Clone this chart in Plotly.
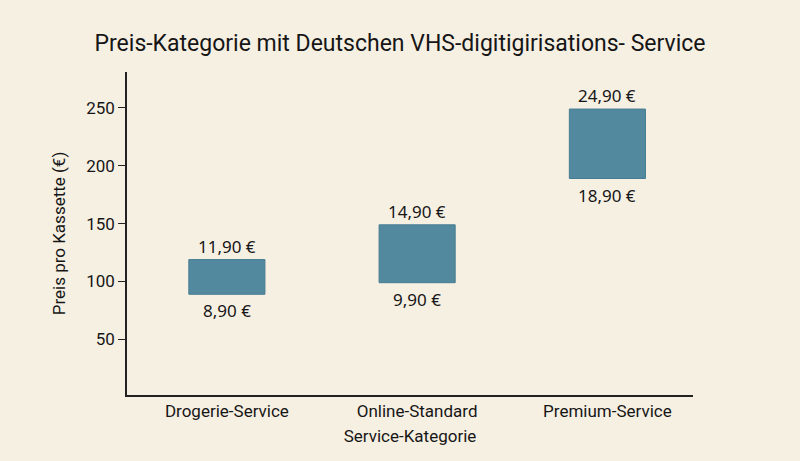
import plotly.graph_objects as go

categories = ["Drogerie-Service", "Online-Standard", "Premium-Service"]
low_values = [89, 99, 189]
high_values = [119, 149, 249]
low_labels = ["8,90 €", "9,90 €", "18,90 €"]
high_labels = ["11,90 €", "14,90 €", "24,90 €"]
y_ticks = [50, 100, 150, 200, 250]

bg = "#f6f0e3"
ink = "#161616"
label_font = dict(family="Noto Sans", size=17, color=ink)

fig = go.Figure()
fig.add_trace(go.Bar(
    x=categories,
    y=[h - l for h, l in zip(high_values, low_values)],
    base=low_values,
    width=0.4,
    marker=dict(color="#52899e", line=dict(width=1, color="#467d92")),
    hoverinfo="skip",
))
for c, h, l, ht, lt in zip(categories, high_values, low_values, high_labels, low_labels):
    fig.add_annotation(x=c, y=h, text=ht, showarrow=False, yanchor="bottom",
                       yshift=0, font=label_font)
    fig.add_annotation(x=c, y=l, text=lt, showarrow=False, yanchor="top",
                       yshift=-3, font=label_font)

fig.update_layout(
    width=800, height=461,
    paper_bgcolor=bg, plot_bgcolor=bg,
    showlegend=False,
    margin=dict(l=127, r=107, t=72, b=66),
    title=dict(text="Preis-Kategorie mit Deutschen VHS-digitigirisations- Service",
               x=0.5, xanchor="center", y=0.907, yanchor="middle",
               font=dict(family="Roboto", size=23, color=ink)),
    font=dict(family="Roboto", color=ink),
)
fig.update_xaxes(
    range=[-0.525, 2.45],
    showline=True, linecolor="#222", linewidth=1.5,
    ticks="", showgrid=False, zeroline=False,
    tickfont=dict(family="Roboto", size=17, color=ink),
    title=dict(text="Service-Kategorie", font=dict(family="Roboto", size=17, color=ink), standoff=10),
)
fig.update_yaxes(
    range=[2, 281],
    tickvals=y_ticks,
    showline=True, linecolor="#222", linewidth=1.5,
    ticks="outside", ticklen=7, tickcolor="#222",
    showgrid=False, zeroline=False,
    tickfont=dict(family="Roboto", size=17, color=ink),
    title=dict(text="Preis pro Kassette (€)", font=dict(family="Roboto", size=17, color=ink), standoff=16),
)
fig.write_html("out.html")
